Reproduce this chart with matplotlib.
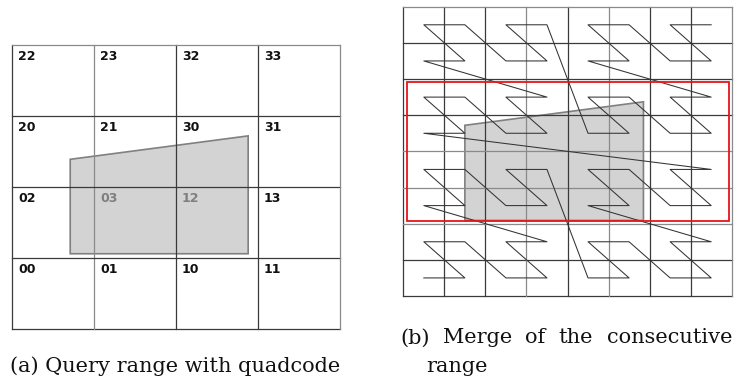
import itertools
import matplotlib
matplotlib.use("Agg")
import matplotlib.pyplot as plt
from matplotlib.patches import Polygon, Rectangle

# ---------------- data ----------------
# quadrant digit -> (dx, dy) offset (0 = bottom-left, 1 = bottom-right, 2 = top-left, 3 = top-right)
QUAD_ORDER = [(0, 0), (1, 0), (0, 1), (1, 1)]
# quadcode labels of the 4x4 grid, rows listed from top to bottom
LABELS = [["22", "23", "32", "33"],
          ["20", "21", "30", "31"],
          ["02", "03", "12", "13"],
          ["00", "01", "10", "11"]]
GREY_LABELS = ["03", "12"]
# query polygon in grid units (left panel: 4x4 grid, right panel: 8x8 grid)
POLY_A_X = [0.71, 2.88, 2.88, 0.71]
POLY_A_Y = [2.39, 2.72, 1.06, 1.06]
POLY_B_X = [1.50, 5.85, 5.85, 1.50]
POLY_B_Y = [4.72, 5.37, 2.09, 2.09]
# merged consecutive range (red rectangle) in 8x8 grid units
RANGE_X = [0.08, 7.94]
RANGE_Y = [2.07, 5.91]
CURVE_LEVEL = 3
CAPTION_A = "(a) Query range with quadcode"
CAPTION_B1 = ["(b)", "Merge", "of", "the", "consecutive"]
CAPTION_B2 = "range"

# ---------------- figure ----------------
W, H = 737, 383
fig = plt.figure(figsize=(W / 100, H / 100), dpi=100)
fig.patch.set_facecolor("white")

def px_axes(x0, y0, x1, y1):
    return fig.add_axes([x0 / W, 1 - y1 / H, (x1 - x0) / W, (y1 - y0) / H])

DARK = "#3a3a3a"
GREY = "#8a8a8a"

# ---------- panel (a) ----------
axa = px_axes(12, 45, 340, 329)
axa.set_xlim(0, 4)
axa.set_ylim(0, 4)
axa.axis("off")
axa.add_patch(Polygon(list(zip(POLY_A_X, POLY_A_Y)), closed=True,
                      facecolor="#d3d3d3", edgecolor="#808080", lw=1.2, zorder=1))
va_styles = [DARK, GREY, DARK, DARK, GREY]
ha_styles = [DARK, DARK, DARK, DARK, GREY]  # from bottom
for i in range(5):
    axa.plot([i, i], [0, 4], color=va_styles[i], lw=0.9, zorder=2, clip_on=False,
             solid_capstyle="projecting")
    axa.plot([0, 4], [i, i], color=ha_styles[i], lw=0.9, zorder=2, clip_on=False,
             solid_capstyle="projecting")
for r, row in enumerate(LABELS):
    for c, lab in enumerate(row):
        col = "#7f7f7f" if lab in GREY_LABELS else "#111111"
        axa.text(c + 6 / 82, 4 - r - 11.2 / 71, lab, ha="left", va="center",
                 fontsize=9, fontweight="bold", color=col, family="DejaVu Sans",
                 zorder=3)

# ---------- panel (b) ----------
axb = px_axes(403.3, 6.7, 731.7, 296)
n = 2 ** CURVE_LEVEL
axb.set_xlim(0, n)
axb.set_ylim(0, n)
axb.axis("off")
axb.add_patch(Polygon(list(zip(POLY_B_X, POLY_B_Y)), closed=True,
                      facecolor="#d3d3d3", edgecolor="#808080", lw=1.2, zorder=1))
vb_styles = [DARK, DARK, DARK, GREY, DARK, GREY, DARK, DARK, GREY]
hb_styles = [DARK, DARK, GREY, GREY, GREY, DARK, DARK, DARK, GREY]  # from bottom
for i in range(n + 1):
    axb.plot([i, i], [0, n], color=vb_styles[i], lw=0.9, zorder=2, clip_on=False,
             solid_capstyle="projecting")
    axb.plot([0, n], [i, i], color=hb_styles[i], lw=0.9, zorder=2, clip_on=False,
             solid_capstyle="projecting")

# Z-order (Morton) curve through cell centres
xs, ys = [], []
for code in itertools.product(range(4), repeat=CURVE_LEVEL):
    x = y = 0
    for k, d in enumerate(code):
        s = 2 ** (CURVE_LEVEL - 1 - k)
        x += QUAD_ORDER[d][0] * s
        y += QUAD_ORDER[d][1] * s
    xs.append(x + 0.5)
    ys.append(y + 0.5)
axb.plot(xs, ys, color="#333333", lw=0.75, zorder=3)

axb.add_patch(Rectangle((RANGE_X[0], RANGE_Y[0]), RANGE_X[1] - RANGE_X[0],
                        RANGE_Y[1] - RANGE_Y[0], fill=False, edgecolor="#e8141c",
                        lw=1.3, zorder=4))

# ---------- captions ----------
cap_font = dict(family="DejaVu Serif", fontsize=14, color="#111111")
ta = fig.text(10 / W, 1 - 371.7 / H, CAPTION_A, ha="left", va="baseline", **cap_font)

renderer = fig.canvas.get_renderer()
# scale caption (a) to the width seen in the reference
wa = ta.get_window_extent(renderer).width
fs = 14 * (331.7 / wa)
ta.set_fontsize(fs)
cap_font["fontsize"] = fs

words = [fig.text(0, 1 - 343.3 / H, w, ha="left", va="baseline", **cap_font)
         for w in CAPTION_B1]
widths = [t.get_window_extent(renderer).width for t in words]
x0, x1 = 400, 732
gap = (x1 - x0 - sum(widths)) / (len(words) - 1)
x = x0
for t, wdt in zip(words, widths):
    t.set_x(x / W)
    x += wdt + gap
fig.text(426 / W, 1 - 371.7 / H, CAPTION_B2, ha="left", va="baseline", **cap_font)

fig.savefig("out.png", dpi=100)
